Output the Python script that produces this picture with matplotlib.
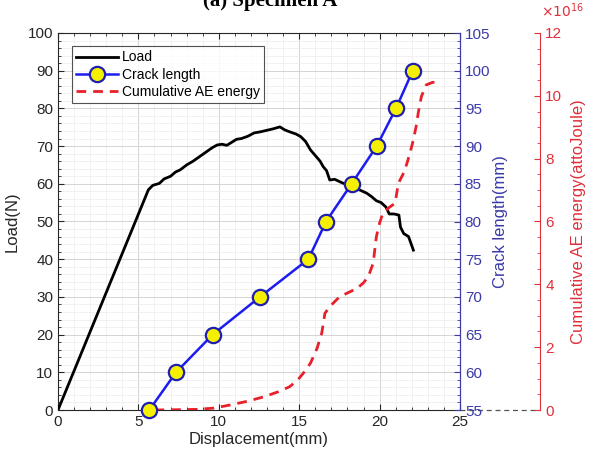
import matplotlib
matplotlib.use("Agg")
import matplotlib.pyplot as plt
from matplotlib.ticker import MultipleLocator
from matplotlib.lines import Line2D

plt.rcParams['font.family'] = ['Liberation Sans', 'DejaVu Sans']

# ---- data ----
load_disp = [0, 5.62, 5.9, 6.3, 6.6, 7.0, 7.3, 7.6, 8.0, 8.4, 8.8, 9.2, 9.6, 9.9, 10.2,
             10.5, 10.8, 11.1, 11.4, 11.8, 12.2, 12.6, 13.0, 13.4, 13.8, 14.1, 14.4,
             14.8, 15.1, 15.4, 15.7, 16.0, 16.3, 16.5, 16.7, 16.9, 17.2, 17.6, 18.0,
             18.4, 18.8, 19.2, 19.5, 19.8, 20.1, 20.4, 20.6, 20.9, 21.2, 21.3, 21.5,
             21.8, 21.9, 22.1]
load_val = [0, 58.4, 59.6, 60.1, 61.3, 62.0, 63.1, 63.7, 65.0, 66.0, 67.2, 68.4, 69.6,
            70.3, 70.5, 70.2, 71.0, 71.8, 72.0, 72.6, 73.5, 73.8, 74.2, 74.6, 75.1,
            74.3, 73.8, 73.2, 72.5, 71.2, 69.0, 67.5, 66.0, 64.5, 63.5, 61.0, 61.2,
            60.4, 59.7, 59.0, 58.3, 57.5, 56.6, 55.5, 55.0, 53.8, 52.0, 52.0, 51.7,
            48.5, 46.8, 46.0, 44.8, 42.4]

crack_disp = [5.68, 7.34, 9.62, 12.56, 15.57, 16.67, 18.26, 19.82, 21.02, 22.06]
crack_len = [55, 60, 65, 70, 75, 80, 85, 90, 95, 100]

ae_disp = [6.0, 7.5, 8.6, 9.7, 10.7, 11.8, 12.8, 13.7, 14.4, 14.9, 15.3, 15.7, 16.1,
           16.4, 16.6, 16.9, 17.5, 18.1, 18.6, 19.0, 19.3, 19.6, 19.7, 19.8, 20.0,
           20.2, 20.6, 20.96, 21.17, 21.5, 21.7, 21.9, 22.1, 22.3, 22.4, 22.6, 22.9,
           23.3, 23.65]
ae_val = [0.0, 0.01, 0.02, 0.06, 0.16, 0.28, 0.42, 0.58, 0.74, 0.95, 1.2, 1.49, 1.95,
          2.44, 3.08, 3.29, 3.6, 3.75, 3.87, 4.05, 4.25, 4.67, 5.1, 5.52, 5.95,
          6.26, 6.45, 6.58, 7.22, 7.55, 7.85, 8.2, 8.6, 9.1, 9.45, 9.98, 10.35,
          10.43, 10.43]

title = "(a) Specimen A"
blue_txt = '#3a3aa8'
red_txt = '#e0303a'

fig = plt.figure(figsize=(5.92, 4.61), dpi=100)
ax = fig.add_axes([58/592, 1-410/461, 402/592, 377/461])

# load
l1, = ax.plot(load_disp, load_val, color='black', lw=2.0, label='Load', zorder=3)
ax.set_xlim(0, 25)
ax.set_ylim(0, 100)
ax.xaxis.set_major_locator(MultipleLocator(5))
ax.xaxis.set_minor_locator(MultipleLocator(1))
ax.yaxis.set_major_locator(MultipleLocator(10))
ax.yaxis.set_minor_locator(MultipleLocator(2))
ax.grid(True, which='major', color='#d4d4d4', lw=0.7)
ax.grid(True, which='minor', color='#ececec', lw=0.5)
ax.set_axisbelow(True)
ax.tick_params(which='both', direction='in', top=True, right=False, labelsize=11, colors='#262626')
ax.tick_params(which='major', length=4)
ax.tick_params(which='minor', length=2)
for s in ax.spines.values():
    s.set_color('#262626')
    s.set_linewidth(0.8)
ax.set_xlabel('Displacement(mm)', fontsize=12, color='#262626', labelpad=2)
ax.set_ylabel('Load(N)', fontsize=12, color='#262626', labelpad=6)

# AE energy axis
ax3 = ax.twinx()
ax3.spines['right'].set_position(('axes', 1.2))
for k in ['top', 'left', 'bottom']:
    ax3.spines[k].set_visible(False)
ax3.spines['right'].set_color(red_txt)
l3, = ax3.plot(ae_disp, [v * 1e16 for v in ae_val], color='#e8202a', lw=2.0,
               ls=(0, (3.5, 2.5)), label='Cumulative AE energy', zorder=3)
ax3.set_ylim(0, 12e16)
ax3.yaxis.set_major_locator(MultipleLocator(2e16))
ax3.yaxis.set_minor_locator(MultipleLocator(0.5e16))
ax3.tick_params(which='both', direction='in', colors=red_txt, labelsize=11)
ax3.tick_params(which='major', length=4)
ax3.tick_params(which='minor', length=2)
ax3.yaxis.get_offset_text().set_visible(False)
ax3.set_yticks([i * 2e16 for i in range(7)])
ax3.set_yticklabels([str(i * 2) for i in range(7)])
ax3.set_ylabel('Cumulative AE energy(attoJoule)', fontsize=12, color=red_txt, labelpad=6)
fig.text(541/592, 1-20/461, r'$\times10^{16}$', color=red_txt, fontsize=10, ha='left', va='bottom')
ax3.plot([25, 30], [0, 0], color='#555555', lw=0.9, ls=(0, (4, 3)), clip_on=False, zorder=1)

# crack length axis
ax2 = ax.twinx()
for k in ['top', 'left', 'bottom']:
    ax2.spines[k].set_visible(False)
ax2.spines['right'].set_color(blue_txt)
l2, = ax2.plot(crack_disp, crack_len, color='#1c1cf0', lw=1.8, marker='o', ms=11,
               mfc='#f5f000', mec='#2020b0', mew=1.6, label='Crack length', zorder=4,
               clip_on=False)
ax2.set_ylim(55, 105)
ax2.yaxis.set_major_locator(MultipleLocator(5))
ax2.yaxis.set_minor_locator(MultipleLocator(1))
ax2.tick_params(which='both', direction='in', colors=blue_txt, labelsize=11)
ax2.tick_params(which='major', length=4)
ax2.tick_params(which='minor', length=2)
ax2.set_ylabel('Crack length(mm)', fontsize=12, color=blue_txt, labelpad=2)

leg = ax2.legend(handles=[l1, l2, l3], loc='upper left', bbox_to_anchor=(0.035, 0.965),
                 fontsize=10, frameon=True, fancybox=False, edgecolor='#262626',
                 handlelength=3.0, handletextpad=0.3, borderpad=0.3, labelspacing=0.25,
                 borderaxespad=0)
leg.get_frame().set_linewidth(0.8)
leg.set_zorder(10)

fig.text(270/592, 1-6/461, title, fontsize=15, fontweight='bold',
         family=['Liberation Serif', 'DejaVu Serif'], ha='center', va='baseline')

fig.savefig('out.png', dpi=100)
